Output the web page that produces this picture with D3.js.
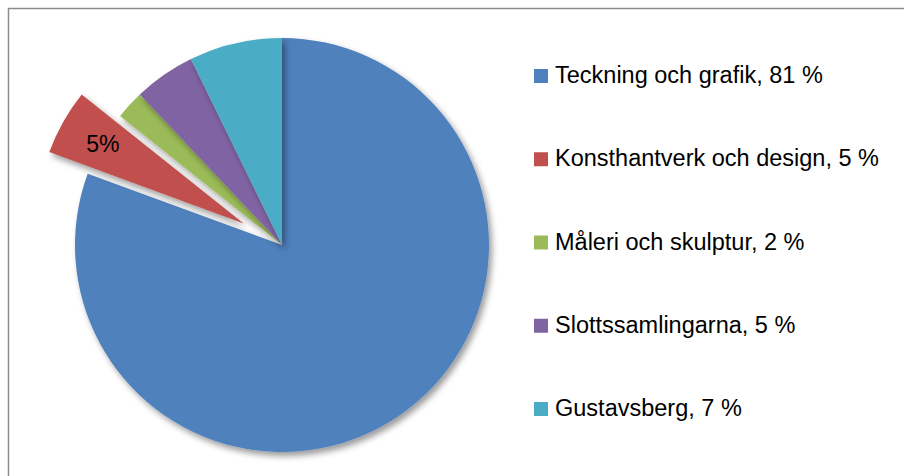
<!DOCTYPE html>
<html>
<head>
<meta charset="utf-8">
<script src="https://d3js.org/d3.v7.min.js"></script>
<style>
  body { margin: 0; background: #fff; }
  svg text { font-family: "Liberation Sans", Arial, sans-serif; fill: #000; }
</style>
</head>
<body>
<svg id="chart" width="904" height="476"></svg>
<script>
// data
var categories = ["Teckning och grafik", "Konsthantverk och design", "Måleri och skulptur", "Slottssamlingarna", "Gustavsberg"];
var values = [80.6, 5.1, 2.25, 4.8, 7.25];
var colors = ["#4F81BD", "#C0504D", "#9BBB59", "#8064A2", "#4BACC6"];
var exploded = [false, true, false, false, false];
var showLabel = [false, true, false, false, false];

var width = 904, height = 476;
var cx = 282, cy = 245, radius = 207, explodeBy = 44;

var svg = d3.select("#chart");

// shadow filter
var defs = svg.append("defs");
var f = defs.append("filter").attr("id", "shadow")
    .attr("x", "-20%").attr("y", "-20%").attr("width", "140%").attr("height", "140%");
f.append("feDropShadow")
    .attr("dx", 3).attr("dy", 4)
    .attr("stdDeviation", 3)
    .attr("flood-color", "#000")
    .attr("flood-opacity", 0.4);

// chart border
svg.append("rect")
    .attr("x", 8.5).attr("y", 8.5)
    .attr("width", width + 20).attr("height", height + 20)
    .attr("fill", "none")
    .attr("stroke", "#8c8c8c")
    .attr("stroke-width", 1.5);

var data = categories.map(function(c, i) {
    return { name: c, value: values[i], color: colors[i], explode: exploded[i], label: showLabel[i] };
});

var pie = d3.pie().sort(null).value(function(d) { return d.value; });
var arc = d3.arc().innerRadius(0).outerRadius(radius);
var arcs = pie(data);

function offset(d) {
    if (!d.data.explode) return [0, 0];
    var a = (d.startAngle + d.endAngle) / 2;
    return [Math.sin(a) * explodeBy, -Math.cos(a) * explodeBy];
}

var g = svg.append("g")
    .attr("transform", "translate(" + cx + "," + cy + ")");

g.selectAll(".slice")
    .data(arcs)
    .enter().append("path")
    .attr("class", "slice")
    .attr("d", arc)
    .attr("fill", function(d) { return d.data.color; })
    .attr("filter", "url(#shadow)")
    .attr("transform", function(d) {
        var o = offset(d);
        return "translate(" + o[0] + "," + o[1] + ")";
    });

// data label on exploded slice
var labelArc = d3.arc().innerRadius(radius * 0.78).outerRadius(radius * 0.78);
g.selectAll(".dlabel")
    .data(arcs.filter(function(d) { return d.data.label; }))
    .enter().append("text")
    .attr("class", "dlabel")
    .attr("text-anchor", "middle")
    .attr("font-size", "23px")
    .attr("transform", function(d) {
        var o = offset(d), c = labelArc.centroid(d);
        return "translate(" + (c[0] + o[0]) + "," + (c[1] + o[1] + 8) + ")";
    })
    .text(function(d) { return Math.round(d.data.value) + "%"; });

// legend
var legendY = d3.scalePoint()
    .domain(categories)
    .range([83, 416]);

var legend = svg.append("g").attr("class", "legend");
var item = legend.selectAll(".item")
    .data(data)
    .enter().append("g")
    .attr("class", "item")
    .attr("transform", function(d) { return "translate(534," + legendY(d.name) + ")"; });

item.append("rect")
    .attr("x", 0).attr("y", -14)
    .attr("width", 14).attr("height", 14)
    .attr("fill", function(d) { return d.color; });

item.append("text")
    .attr("x", 21).attr("y", 0)
    .attr("font-size", "23.5px")
    .text(function(d) { return d.name + ", " + Math.round(d.value) + " %"; });
</script>
</body>
</html>
